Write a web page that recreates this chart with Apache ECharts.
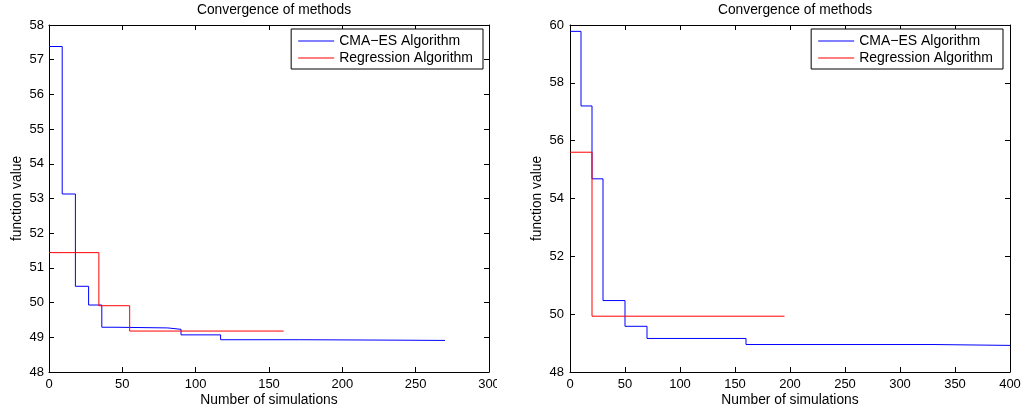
<!DOCTYPE html>
<html>
<head>
<meta charset="utf-8">
<script src="https://cdn.jsdelivr.net/npm/echarts@6/dist/echarts.min.js"></script>
<style>
  html, body { margin: 0; padding: 0; background: #fff; }
  #wrap { position: relative; width: 1021px; height: 412px; overflow: hidden; }
  #left { position: absolute; left: 0; top: 0; width: 497px; height: 412px; }
  #right { position: absolute; left: 497px; top: 0; width: 524px; height: 412px; }
</style>
</head>
<body>
<div id="wrap"><div id="left"></div><div id="right"></div></div>
<script>
// ----- data -----
const seriesNames = ['CMA\u2212ES Algorithm', 'Regression Algorithm'];
const titleText = 'Convergence of methods';
const xAxisName = 'Number of simulations';
const yAxisName = 'function value';

// Left panel
const leftCmaX = [0, 9, 18, 27, 36, 45, 81, 90, 117, 171, 225, 270];
const leftCmaY = [57.38, 53.13, 50.47, 49.93, 49.29, 49.27, 49.23, 49.07, 48.93, 48.92, 48.91, 48.91];
const leftRegX = [0, 34, 55, 160];
const leftRegY = [51.44, 49.91, 49.18, 49.18];
const leftXTicks = [0, 50, 100, 150, 200, 250, 300];
const leftYTicks = [48, 49, 50, 51, 52, 53, 54, 55, 56, 57, 58];

// Right panel
const rightCmaX = [0, 10, 20, 30, 50, 70, 160, 330, 400];
const rightCmaY = [59.78, 57.2, 54.68, 50.47, 49.58, 49.16, 48.95, 48.92, 48.92];
const rightRegX = [0, 20, 195];
const rightRegY = [55.6, 49.93, 49.93];
const rightXTicks = [0, 50, 100, 150, 200, 250, 300, 350, 400];
const rightYTicks = [48, 50, 52, 54, 56, 58, 60];

const FONT = "'Liberation Sans', Arial, Helvetica, sans-serif";

function pairs(xs, ys) { return xs.map((x, i) => [x, ys[i]]); }

function buildOption(cfg) {
  const xMin = cfg.xTicks[0], xMax = cfg.xTicks[cfg.xTicks.length - 1];
  const xInt = cfg.xTicks[1] - cfg.xTicks[0];
  const yMin = cfg.yTicks[0], yMax = cfg.yTicks[cfg.yTicks.length - 1];
  const yInt = cfg.yTicks[1] - cfg.yTicks[0];
  const axisLine = { show: true, onZero: false, lineStyle: { color: '#000', width: 1 } };
  const tick = { show: true, inside: true, length: 5, lineStyle: { color: '#000', width: 1 } };
  const lbl = { color: '#000', fontSize: 13, fontFamily: FONT, showMinLabel: true, showMaxLabel: true, hideOverlap: false };
  const xBase = { type: 'value', min: xMin, max: xMax, interval: xInt, splitLine: { show: false }, axisLine, axisTick: tick };
  const yBase = { type: 'value', min: yMin, max: yMax, interval: yInt, splitLine: { show: false }, axisLine, axisTick: tick };
  return {
    animation: false,
    backgroundColor: '#fff',
    textStyle: { fontFamily: FONT },
    title: {
      text: titleText, left: cfg.titleX, top: -2, textAlign: 'center',
      textStyle: { fontSize: 13.8, fontWeight: 'normal', color: '#000', fontFamily: FONT }
    },
    grid: { left: cfg.gridLeft, right: cfg.gridRight, top: 25, bottom: 40, containLabel: false, outerBoundsMode: 'none' },
    legend: {
      orient: 'vertical', right: cfg.legendRight, top: 29,
      data: seriesNames,
      icon: 'rect', itemWidth: 36, itemHeight: 1, itemGap: 3,
      padding: [5, 10, 4, 7],
      borderColor: '#000', borderWidth: 1, backgroundColor: '#fff',
      textStyle: { fontSize: 14, color: '#000', fontFamily: FONT, padding: [0, 0, 0, 0] }
    },
    xAxis: [
      Object.assign({}, xBase, {
        position: 'bottom', axisLabel: Object.assign({ margin: 6 }, lbl),
        name: xAxisName, nameLocation: 'middle', nameGap: 21, nameMoveOverlap: false,
        nameTextStyle: { fontSize: 13.8, color: '#000', fontFamily: FONT }
      }),
      Object.assign({}, xBase, { position: 'top', axisLabel: { show: false } })
    ],
    yAxis: [
      Object.assign({}, yBase, {
        position: 'left', axisLabel: Object.assign({ margin: cfg.yLabelMargin }, lbl),
        name: yAxisName, nameLocation: 'middle', nameGap: cfg.yNameGap, nameRotate: 90,
        nameMoveOverlap: false,
        nameTextStyle: { fontSize: 13.8, color: '#000', fontFamily: FONT }
      }),
      Object.assign({}, yBase, { position: 'right', axisLabel: { show: false } })
    ],
    series: [
      {
        name: seriesNames[0], type: 'line', step: 'end', showSymbol: false, symbol: 'none',
        xAxisIndex: 0, yAxisIndex: 0,
        data: pairs(cfg.cmaX, cfg.cmaY),
        lineStyle: { color: '#0000ff', width: 1 }, itemStyle: { color: '#0000ff' }
      },
      {
        name: seriesNames[1], type: 'line', step: 'end', showSymbol: false, symbol: 'none',
        xAxisIndex: 0, yAxisIndex: 0,
        data: pairs(cfg.regX, cfg.regY),
        lineStyle: { color: '#ff0000', width: 1 }, itemStyle: { color: '#ff0000' }
      }
    ]
  };
}

const leftChart = echarts.init(document.getElementById('left'), null, { renderer: 'canvas' });
leftChart.setOption(buildOption({
  cmaX: leftCmaX, cmaY: leftCmaY, regX: leftRegX, regY: leftRegY,
  xTicks: leftXTicks, yTicks: leftYTicks,
  gridLeft: 49, gridRight: 8, titleX: 269, legendRight: 14,
  yLabelMargin: 5, yNameGap: 25
}));

const rightChart = echarts.init(document.getElementById('right'), null, { renderer: 'canvas' });
rightChart.setOption(buildOption({
  cmaX: rightCmaX, cmaY: rightCmaY, regX: rightRegX, regY: rightRegY,
  xTicks: rightXTicks, yTicks: rightYTicks,
  gridLeft: 73, gridRight: 11, titleX: 293, legendRight: 18,
  yLabelMargin: 6, yNameGap: 26
}));
</script>
</body>
</html>
